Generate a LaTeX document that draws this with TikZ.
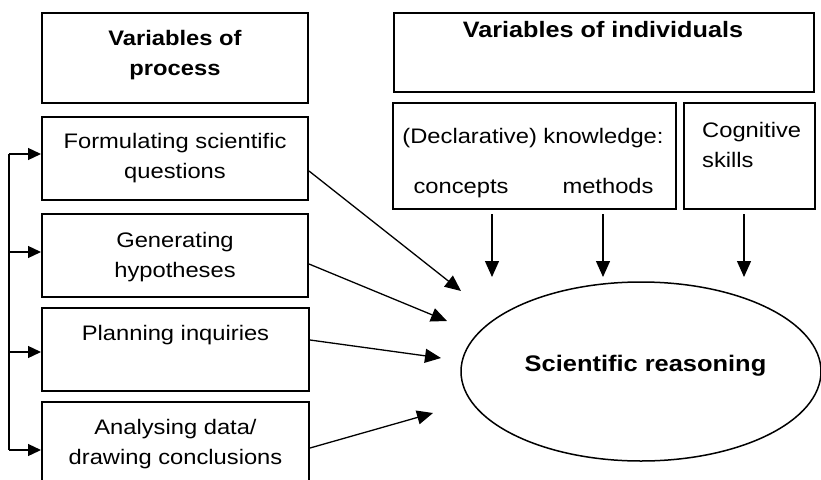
\documentclass[tikz,border=0pt]{standalone}
\usepackage{fontspec}
\setmainfont[FakeStretch=1.13]{Liberation Sans}
\usetikzlibrary{arrows.meta,shapes.geometric}

\tikzset{
	box/.style={draw, line width=2pt, inner sep=0pt},
	txt/.style={anchor=base, align=center, inner sep=0pt, font=\fontsize{21}{30}\selectfont},
	head/.style={txt, font=\fontsize{21}{30}\selectfont\bfseries},
	arr/.style={line width=1.3pt, -{Triangle[length=16pt,width=14pt]}},
	sarr/.style={line width=1.3pt, -{Triangle[length=13pt,width=12pt]}}
}

\begin{document}
\begin{tikzpicture}[x=1pt,y=-1pt]
			%%%%% START %%%%%
			\clip (0,0) rectangle (821,479);
			
			% process side
			\node[box, minimum width=266pt, minimum height=90pt] (proc) at (175,58) {};
			\node[head] (procT) at (175,75) {Variables of\\process};
			
			\node[box, minimum width=266pt, minimum height=83pt] (fsq) at (175,158.5) {};
			\node[txt] (fsqT) at (175,178) {Formulating scientific\\questions};
			
			\node[box, minimum width=266pt, minimum height=83pt] (gh) at (175,255.5) {};
			\node[txt] (ghT) at (175,277) {Generating\\hypotheses};
			
			\node[box, minimum width=267pt, minimum height=83pt] (pi) at (175.5,349.5) {};
			\node[txt] (piT) at (175.5,340) {Planning inquiries};
			
			\node[box, minimum width=267pt, minimum height=83pt] (ad) at (175.5,443.5) {};
			\node[txt] (adT) at (175.5,464) {Analysing data/\\drawing conclusions};
			
			% individuals side
			\node[box, minimum width=420pt, minimum height=79pt] (ind) at (604,52.5) {};
			\node[head, font=\fontsize{22.3}{30}\selectfont\bfseries] (indT) at (603,37) {Variables of individuals};
			
			\node[box, minimum width=283pt, minimum height=106pt] (kno) at (534.5,156) {};
			\node[txt] (knoT) at (533,143) {(Declarative) knowledge:};
			\node[txt] (conT) at (461,193) {concepts};
			\node[txt] (metT) at (608,193) {methods};
			
			\node[box, minimum width=131pt, minimum height=106pt] (cog) at (749.5,156) {};
			\node[txt, anchor=base west, align=left] (cogT) at (702,167) {Cognitive\\skills};
			
			% scientific reasoning
			\node[draw, ellipse, line width=1.5pt, inner sep=0pt, minimum width=360pt, minimum height=179pt] (sr) at (641,371.5) {};
			\node[head, font=\fontsize{22.5}{30}\selectfont\bfseries] (srT) at (645.5,371) {Scientific reasoning};
			
			% arrow tips
			\coordinate (t1) at (461,291);
			\coordinate (t2) at (447,321);
			\coordinate (t3) at (441,358);
			\coordinate (t4) at (433,413);
			\coordinate (d1) at (492,277);
			\coordinate (d2) at (603,277);
			\coordinate (d3) at (744,277);
			
			\draw[arr] ([yshift=-12.5pt]fsq.east) -- (t1);
			\draw[arr] ([yshift=-8.5pt]gh.east) -- (t2);
			\draw[arr] ([yshift=9.5pt]pi.east) -- (t3);
			\draw[arr] ([yshift=-4.5pt]ad.east) -- (t4);
			
			\draw[arr] ([xshift=-42.5pt,yshift=-4pt]kno.south) -- (d1);
			\draw[arr] ([xshift=68.5pt,yshift=-4pt]kno.south) -- (d2);
			\draw[arr] ([xshift=-5.5pt,yshift=-4pt]cog.south) -- (d3);
			
			% feedback line
			\coordinate (fb1) at (9,154);
			\coordinate (fb2) at (9,252);
			\coordinate (fb3) at (9,352);
			\coordinate (fb4) at (9,450);
			\draw[line width=1.3pt] (fb1) -- (fb4);
			\foreach \b/\c in {fsq/fb1, gh/fb2, pi/fb3, ad/fb4}
				\draw[sarr] (\c) -- (\c -| \b.west);
			
			%%%%% END %%%%%
\end{tikzpicture}
\end{document}
